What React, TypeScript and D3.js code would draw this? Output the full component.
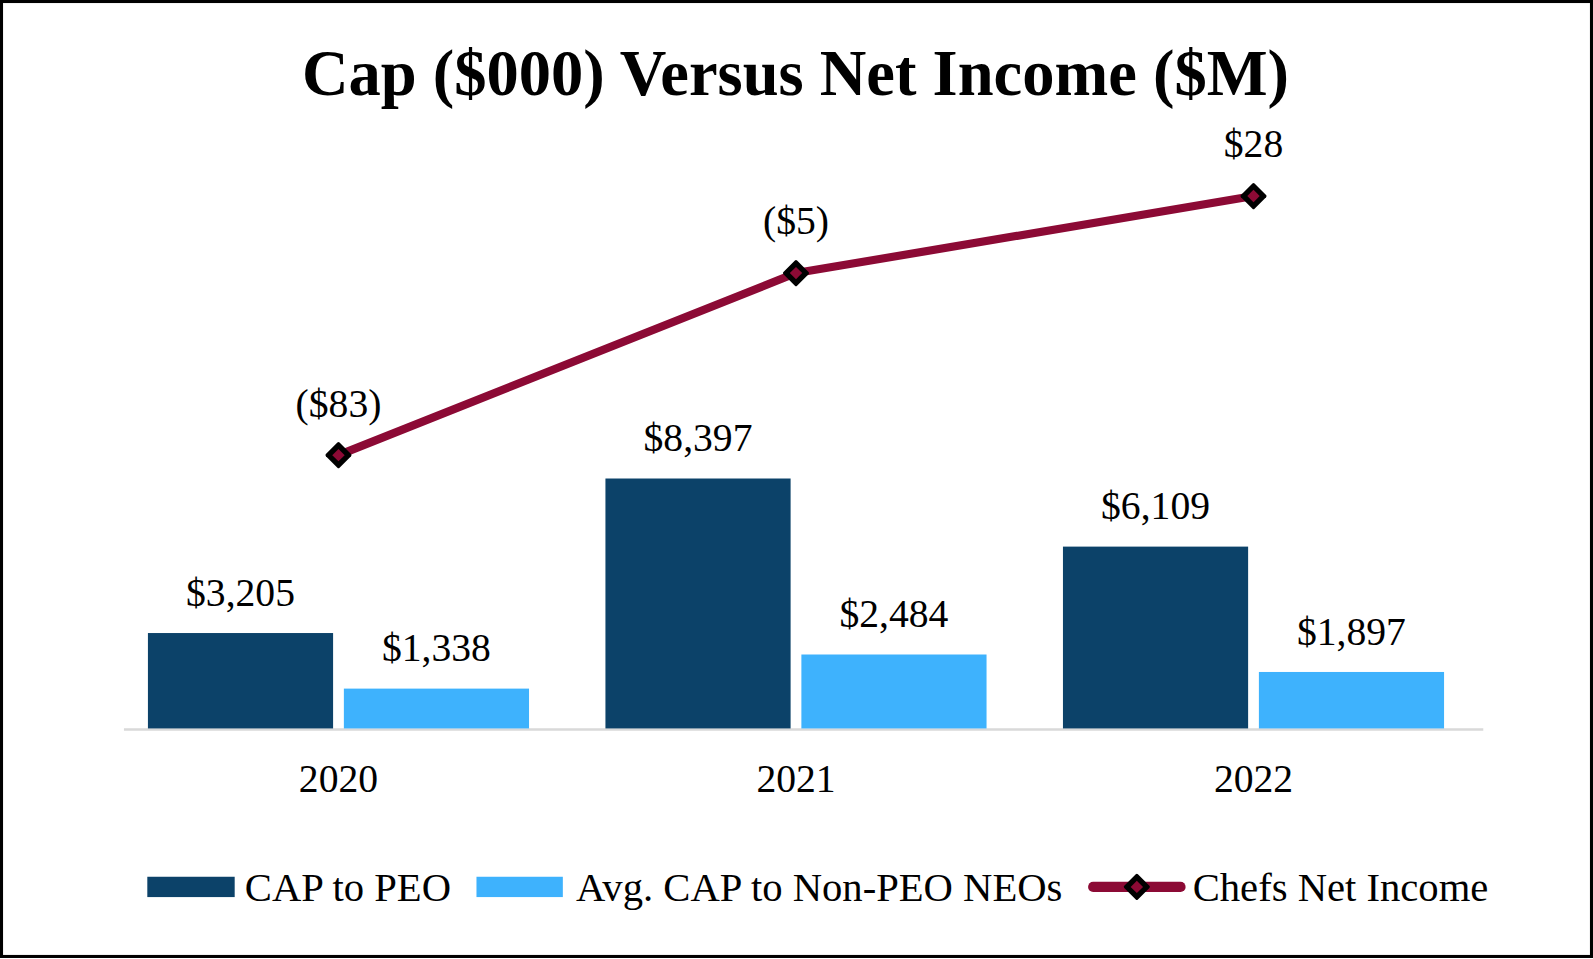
import * as d3 from "d3";

const years = ["2020", "2021", "2022"];
const capPeo = [3205, 8397, 6109];
const capNonPeo = [1338, 2484, 1897];
const netIncome = [-83, -5, 28];
const seriesNames = ["CAP to PEO", "Avg. CAP to Non-PEO NEOs", "Chefs Net Income"];

const W = 1593;
const H = 959;
// layout units below are a 1568-wide frame scaled to the page
const VW = 1568;
const VH = (H * VW) / W;
const FONT = "'Liberation Serif', 'Times New Roman', serif";
const DARK = "#0c4269";
const LIGHT = "#3eb2fd";
const LINE = "#8c0a35";

const fmtMoney = (v: number) =>
  v < 0 ? `($${d3.format(",")(-v)})` : `$${d3.format(",")(v)}`;

const Marker = ({ x, y, s }: { x: number; y: number; s: number }) => (
  <g transform={`translate(${x},${y}) rotate(45)`}>
    <rect x={-s / 2} y={-s / 2} width={s} height={s} rx={1.5} fill="#000" />
    <rect x={-s / 4.4} y={-s / 4.4} width={s / 2.2} height={s / 2.2} fill={LINE} />
  </g>
);

const App = () => {
  const x0 = d3.scaleBand().domain(years).range([108, 1459]).paddingInner(0.167).paddingOuter(0.0835);
  const x1 = d3.scaleBand().domain(["peo", "non"]).range([0, x0.bandwidth()]).paddingInner(0.055);
  const y = d3.scaleLinear().domain([0, 8397]).range([717, 471]);
  const y2 = d3.scaleLinear().domain([-83, 28]).range([448, 193]);

  const cx = (yr: string) => (x0(yr) ?? 0) + x0.bandwidth() / 2;
  const line = d3
    .line<number>()
    .x((_, i) => cx(years[i]))
    .y((d) => y2(d));

  return (
    <svg
      width={W}
      height={H}
      viewBox={`0 0 ${VW} ${VH}`}
      style={{ position: "absolute", left: 0, top: 0 }}
      fontFamily={FONT}
    >
      <rect x={1.5} y={1.5} width={VW - 3} height={VH - 4} fill="#fff" stroke="#000" strokeWidth={3} />
      <text x={783} y={94} textAnchor="middle" fontSize={63.5} fontWeight="bold">
        Cap ($000) Versus Net Income ($M)
      </text>

      <line x1={122} x2={1460} y1={y(0) + 1} y2={y(0) + 1} stroke="#d9d9d9" strokeWidth={2.5} />

      {years.map((yr, i) => {
        const gx = x0(yr) ?? 0;
        const bw = x1.bandwidth();
        const px = gx + (x1("peo") ?? 0);
        const nx = gx + (x1("non") ?? 0);
        return (
          <g key={yr}>
            <rect x={px} y={y(capPeo[i])} width={bw} height={y(0) - y(capPeo[i])} fill={DARK} />
            <rect x={nx} y={y(capNonPeo[i])} width={bw} height={y(0) - y(capNonPeo[i])} fill={LIGHT} />
            <text x={px + bw / 2} y={y(capPeo[i]) - 27} textAnchor="middle" fontSize={39}>
              {fmtMoney(capPeo[i])}
            </text>
            <text x={nx + bw / 2} y={y(capNonPeo[i]) - 27} textAnchor="middle" fontSize={39}>
              {fmtMoney(capNonPeo[i])}
            </text>
            <text x={cx(yr)} y={780} textAnchor="middle" fontSize={39}>
              {yr}
            </text>
          </g>
        );
      })}

      <path d={line(netIncome) ?? ""} fill="none" stroke={LINE} strokeWidth={8} strokeLinejoin="round" />
      {netIncome.map((v, i) => (
        <g key={i}>
          <Marker x={cx(years[i])} y={y2(v)} s={19} />
          <text x={cx(years[i])} y={y2(v) - 38} textAnchor="middle" fontSize={39}>
            {fmtMoney(v)}
          </text>
        </g>
      ))}

      <g fontSize={40}>
        <rect x={145} y={863} width={86} height={20} fill={DARK} />
        <text x={241} y={887}>{seriesNames[0]}</text>
        <rect x={469} y={863} width={85} height={20} fill={LIGHT} />
        <text x={567} y={887}>{seriesNames[1]}</text>
        <line x1={1076} x2={1162} y1={873} y2={873} stroke={LINE} strokeWidth={10} strokeLinecap="round" />
        <Marker x={1119} y={873} s={19} />
        <text x={1174} y={887}>{seriesNames[2]}</text>
      </g>
    </svg>
  );
};

export default App;
